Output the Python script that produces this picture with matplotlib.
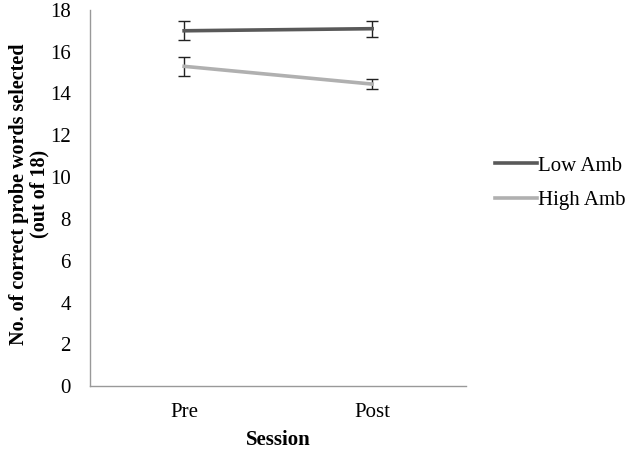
import matplotlib
matplotlib.use("Agg")
import matplotlib.pyplot as plt
from matplotlib.lines import Line2D

# data
sessions = ["Pre", "Post"]
low_amb = [17.0, 17.1]
low_err = [0.45, 0.38]
high_amb = [15.3, 14.45]
high_err = [0.45, 0.22]

plt.rcParams['font.family'] = ['Liberation Serif', 'DejaVu Serif']

fig = plt.figure(figsize=(6.3, 4.49), dpi=100)
ax = fig.add_axes([0.143, 0.140, 0.597, 0.838])

x = [0.5, 1.5]
ax.errorbar(x, low_amb, yerr=low_err, color="#595959", lw=2.6, ecolor="#222222",
            elinewidth=1, capsize=4, capthick=1, label="Low Amb")
ax.errorbar(x, high_amb, yerr=high_err, color="#b0b0b0", lw=2.6, ecolor="#222222",
            elinewidth=1, capsize=4, capthick=1, label="High Amb")

ax.set_xlim(0, 2)
ax.set_ylim(0, 18)
ax.set_yticks(range(0, 19, 2))
ax.set_xticks(x)
ax.set_xticklabels(sessions)
ax.tick_params(length=0, labelsize=15)
ax.tick_params(axis='x', pad=12)
ax.tick_params(axis='y', pad=14)

for s in ["top", "right"]:
    ax.spines[s].set_visible(False)
for s in ["left", "bottom"]:
    ax.spines[s].set_color("#999999")
    ax.spines[s].set_linewidth(1)

ax.set_xlabel("Session", fontsize=15, fontweight="bold", labelpad=6)
ax.set_ylabel("No. of correct probe words selected\n(out of 18)", fontsize=14.5,
              fontweight="bold", linespacing=1.0, va="center")
ax.yaxis.set_label_coords(-0.162, 0.51)

# legend entries without error bars
handles = [Line2D([], [], color="#595959", lw=2.6), Line2D([], [], color="#b0b0b0", lw=2.6)]
ax.legend(handles, ["Low Amb", "High Amb"], loc="center left", bbox_to_anchor=(1.0, 0.54),
          frameon=False, fontsize=15, handlelength=2.0, handletextpad=0.05,
          labelspacing=0.7, borderaxespad=1.0)

fig.savefig("out.png", dpi=100)
